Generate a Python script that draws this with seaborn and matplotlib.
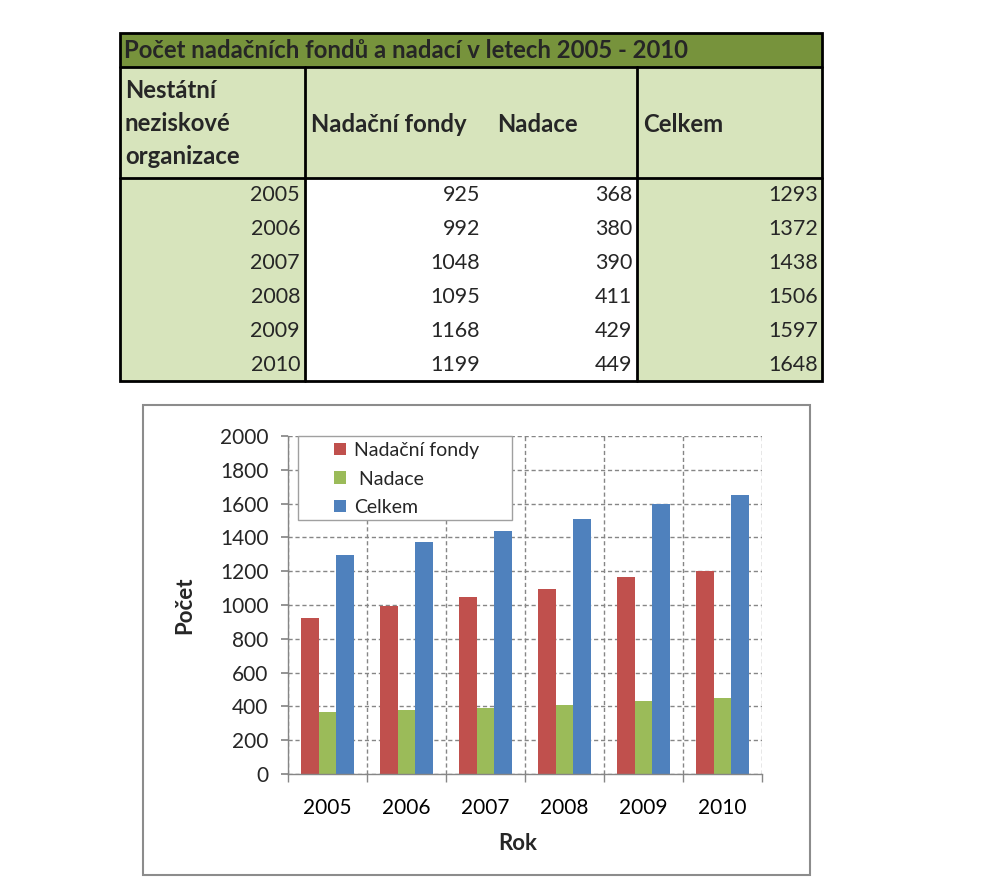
import numpy as np
import pandas as pd
import matplotlib
matplotlib.use("Agg")
import matplotlib.pyplot as plt
import seaborn as sns
from matplotlib.patches import Rectangle

# data from the table / chart
years = ["2005", "2006", "2007", "2008", "2009", "2010"]
nadacni_fondy = [925, 992, 1048, 1095, 1168, 1199]
nadace = [368, 380, 390, 411, 429, 449]
celkem = [1293, 1372, 1438, 1506, 1597, 1648]
series_names = ["Nadační fondy", " Nadace", "Celkem"]
colors = ["#C0504D", "#9BBB59", "#4F81BD"]
y_ticks = list(range(0, 2001, 200))

table_title = "Počet nadačních fondů a nadací v letech 2005 - 2010"
header_first = ["Nestátní", "neziskové", "organizace"]
header_cols = ["Nadační fondy", "Nadace", "Celkem"]

FONT = "Lato"
W, H = 991, 896


def draw_table(tab):
    """Draw the table on top of the figure in pixel coordinates."""
    light = "#D7E4BC"
    dark = "#77933C"
    left, right, c1, c2 = 120, 822, 305, 637
    top, t_bot, h_bot, bottom = 33, 67, 178, 381

    tab.add_patch(Rectangle((left, top), right - left, t_bot - top, fc=dark, ec="none"))
    tab.add_patch(Rectangle((left, t_bot), right - left, h_bot - t_bot, fc=light, ec="none"))
    tab.add_patch(Rectangle((left, h_bot), c1 - left, bottom - h_bot, fc=light, ec="none"))
    tab.add_patch(Rectangle((c2, h_bot), right - c2, bottom - h_bot, fc=light, ec="none"))

    lw = 2
    tab.add_patch(Rectangle((left, top), right - left, bottom - top, fc="none", ec="black", lw=lw))
    for yy in (t_bot, h_bot):
        tab.plot([left, right], [yy, yy], color="black", lw=lw)
    for xx in (c1, c2):
        tab.plot([xx, xx], [t_bot, bottom], color="black", lw=lw)

    fs_b = 17.2
    fs = 15.5
    tab.text(124, 50, table_title, fontsize=fs_b, fontweight="bold", va="center", ha="left", family=FONT)
    for i, line in enumerate(header_first):
        tab.text(125, 90 + i * 33.5, line, fontsize=fs_b, fontweight="bold", va="center", family=FONT)
    tab.text(311, 124, header_cols[0], fontsize=fs_b, fontweight="bold", va="center", family=FONT)
    tab.text(497, 124, header_cols[1], fontsize=fs_b, fontweight="bold", va="center", family=FONT)
    tab.text(643, 124, header_cols[2], fontsize=fs_b, fontweight="bold", va="center", family=FONT)

    cols = [years, nadacni_fondy, nadace, celkem]
    right_edges = [300, 480, 632, 818]
    for ci, col in enumerate(cols):
        for ri, val in enumerate(col):
            tab.text(right_edges[ci], 195 + ri * 34, str(val), fontsize=fs, ha="right",
                     va="center", family=FONT)

    # chart frame
    tab.add_patch(Rectangle((143, 405), 810 - 143, 875 - 405, fc="none", ec="#8C8C8C", lw=1.5))


def main():
    sns.set_theme(style="white")
    plt.rcParams["font.family"] = [FONT, "DejaVu Sans"]

    df = pd.DataFrame({
        "Rok": years * 3,
        "Počet": nadacni_fondy + nadace + celkem,
        "serie": [s for s in series_names for _ in years],
    })

    fig = plt.figure(figsize=(W / 100, H / 100), dpi=100)
    tab = fig.add_axes([0, 0, 1, 1])
    tab.set_xlim(0, W)
    tab.set_ylim(H, 0)
    tab.axis("off")
    draw_table(tab)

    # plot area: x 288..762, y 436..774 (pixels)
    ax = fig.add_axes([288 / W, 1 - 774 / H, 474 / W, 338 / H])
    ax.set_facecolor("none")
    sns.barplot(data=df, x="Rok", y="Počet", hue="serie", palette=colors, width=0.68,
                saturation=1, ax=ax, legend=True, linewidth=0)

    grid_c = "#868686"
    ax.set_ylim(0, 2000)
    ax.set_xlim(-0.5, 5.5)
    ax.set_yticks(y_ticks)
    ax.set_xticks(np.arange(-0.5, 6, 1), minor=True)
    ax.set_axisbelow(True)
    ax.grid(axis="y", which="major", color=grid_c, ls=(0, (3, 2)), lw=1)
    ax.grid(axis="x", which="minor", color=grid_c, ls=(0, (3, 2)), lw=1)
    ax.grid(axis="x", which="major", visible=False)
    for s in ("top", "right"):
        ax.spines[s].set_visible(False)
    for s in ("left", "bottom"):
        ax.spines[s].set_color(grid_c)
        ax.spines[s].set_linewidth(1)

    ax.tick_params(axis="x", which="major", length=0, pad=17, labelsize=15, colors="black")
    ax.tick_params(axis="x", which="minor", length=6, direction="out", color=grid_c, bottom=True)
    ax.tick_params(axis="y", which="major", length=5, direction="out", color=grid_c, left=True,
                   pad=9, labelsize=15)

    ax.set_xlabel("Rok", fontsize=16, fontweight="bold")
    ax.set_ylabel("Počet", fontsize=16, fontweight="bold")
    ax.xaxis.set_label_coords(0.485, -0.175)
    ax.yaxis.set_label_coords(-0.195, 0.5)

    # legend with a separate box, to match the padding of the original
    handles, labels = ax.get_legend_handles_labels()
    ax.get_legend().remove()
    ax.add_patch(Rectangle((10 / 474, 1 - 84 / 338), 214 / 474, 84 / 338, transform=ax.transAxes,
                           fc="white", ec="#A0A0A0", lw=1, zorder=4, clip_on=False))
    leg = ax.legend(handles, labels, loc="upper left", bbox_to_anchor=(40 / 474, 1.0),
                    frameon=False, fontsize=14, handlelength=0.6, handleheight=0.6,
                    handletextpad=0.45, labelspacing=0.6, borderpad=0.3, borderaxespad=0)
    leg.set_zorder(5)

    fig.savefig("out.png", dpi=100, facecolor="white")


if __name__ == "__main__":
    main()
